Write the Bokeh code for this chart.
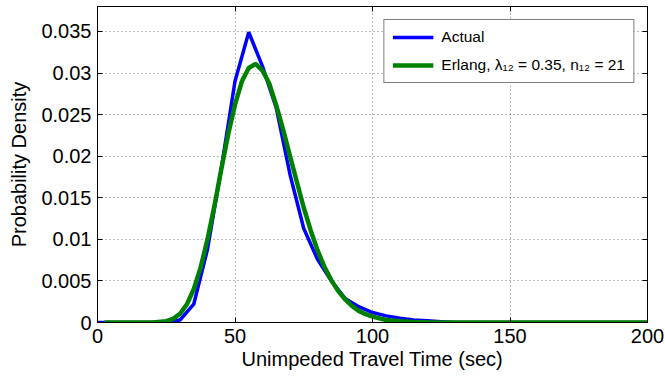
from bokeh.plotting import figure
from bokeh.models import Range1d, FixedTicker, LinearAxis, Legend, LegendItem
from bokeh.embed import file_html
from bokeh.resources import INLINE

# ---- data ----
actual_x = [0, 5, 10, 15, 20, 25, 30, 35, 40, 45, 50, 55, 60, 65, 70, 75, 80, 85,
            90, 95, 100, 105, 110, 115, 120, 125, 130, 140, 150, 160, 170, 180, 190, 200]
actual_y = [0, 0, 0, 0, 0, 0, 0.0003, 0.0022, 0.0088, 0.0185, 0.0290, 0.0349, 0.0308,
            0.0258, 0.0178, 0.0113, 0.0076, 0.0050, 0.0029, 0.0019, 0.0012, 0.0008,
            0.0005, 0.0003, 0.0002, 0.0001, 0, 0, 0, 0, 0, 0, 0, 0]

erlang_x = [2.5, 10, 20, 25, 27.5, 30, 32.5, 35, 37.5, 40, 42.5, 45, 47.5, 50, 52.5,
            55, 57.5, 60, 62.5, 65, 67.5, 70, 72.5, 75, 77.5, 80, 82.5, 85, 87.5, 90,
            92.5, 95, 97.5, 100, 105, 110, 115, 120, 130, 150, 200]
erlang_y = [0, 0, 0.00001, 0.00016, 0.00044, 0.00105, 0.00218, 0.0040, 0.0066, 0.0100,
            0.0140, 0.0184, 0.0226, 0.0262, 0.0290, 0.0306, 0.0311, 0.0303, 0.0287,
            0.0261, 0.0232, 0.0200, 0.0169, 0.0138, 0.0111, 0.0087, 0.0067, 0.0051,
            0.0038, 0.0028, 0.0020, 0.0014, 0.0010, 0.0007, 0.0003, 0.00014, 0.00006,
            0.00002, 0, 0, 0]

x_ticks = [0, 50, 100, 150, 200]
y_ticks = [0, 0.005, 0.01, 0.015, 0.02, 0.025, 0.03, 0.035]
y_tick_labels = ["0", "0.005", "0.01", "0.015", "0.02", "0.025", "0.03", "0.035"]

x_label = "Unimpeded Travel Time (sec)"
y_label = "Probability Density"
legend_labels = ["Actual", "Erlang, \u03bb\u2081\u2082 = 0.35, n\u2081\u2082 = 21"]

FONT = "Liberation Sans"

p = figure(width=665, height=381, output_backend="svg", toolbar_location=None,
           x_range=Range1d(0, 200), y_range=Range1d(0, 0.038),
           min_border_left=97, min_border_right=18, min_border_top=6, min_border_bottom=59)
p.background_fill_color = "white"
p.border_fill_color = "white"
p.outline_line_color = "black"
p.outline_line_width = 1

# grid
for g in (p.xgrid, p.ygrid):
    g.grid_line_color = "#777777"
    g.grid_line_dash = "1 3"
    g.grid_line_width = 1
p.xgrid.ticker = FixedTicker(ticks=x_ticks)
p.ygrid.ticker = FixedTicker(ticks=y_ticks)

# main axes
xa = p.xaxis[0]
ya = p.yaxis[0]
xa.ticker = FixedTicker(ticks=x_ticks)
ya.ticker = FixedTicker(ticks=y_ticks)
ya.major_label_overrides = {v: s for v, s in zip(y_ticks, y_tick_labels)}
xa.axis_label = x_label
ya.axis_label = y_label
for ax in (xa, ya):
    ax.axis_line_color = "black"
    ax.major_tick_line_color = "black"
    ax.major_tick_in = 5
    ax.major_tick_out = 0
    ax.minor_tick_line_color = None
    ax.major_label_text_font = FONT
    ax.major_label_text_font_size = "20px"
    ax.major_label_text_color = "black"
    ax.axis_label_text_font = FONT
    ax.axis_label_text_font_size = "20px"
    ax.axis_label_text_font_style = "normal"
    ax.axis_label_text_color = "black"
xa.major_label_standoff = 6
xa.axis_label_standoff = 2
ya.major_label_standoff = 6
ya.axis_label_standoff = 8

# box axes (top and right) with inward ticks, no labels
top = LinearAxis(ticker=FixedTicker(ticks=x_ticks),
                 major_label_overrides={v: "" for v in x_ticks})
right = LinearAxis(ticker=FixedTicker(ticks=y_ticks),
                   major_label_overrides={v: "" for v in y_ticks})
for ax in (top, right):
    ax.axis_line_color = "black"
    ax.major_tick_line_color = "black"
    ax.major_tick_in = 5
    ax.major_tick_out = 0
    ax.minor_tick_line_color = None
    ax.major_label_standoff = 0
p.add_layout(top, "above")
p.add_layout(right, "right")

r1 = p.line(actual_x, actual_y, line_color="#0000ff", line_width=3.5)
r2 = p.line(erlang_x, erlang_y, line_color="#008000", line_width=4.5)

legend = Legend(items=[LegendItem(label=legend_labels[0], renderers=[r1]),
                       LegendItem(label=legend_labels[1], renderers=[r2])],
                location="top_right")
legend.margin = 13
legend.padding = 8
legend.spacing = 10
legend.label_height = 18
legend.glyph_height = 18
legend.glyph_width = 41
legend.label_standoff = 8
legend.label_text_font = FONT
legend.label_text_font_size = "15.5px"
legend.label_text_color = "black"
legend.border_line_color = "black"
legend.border_line_width = 1
legend.background_fill_color = "white"
legend.background_fill_alpha = 1
p.add_layout(legend, "center")

open("out.html", "w").write(file_html(p, INLINE))
